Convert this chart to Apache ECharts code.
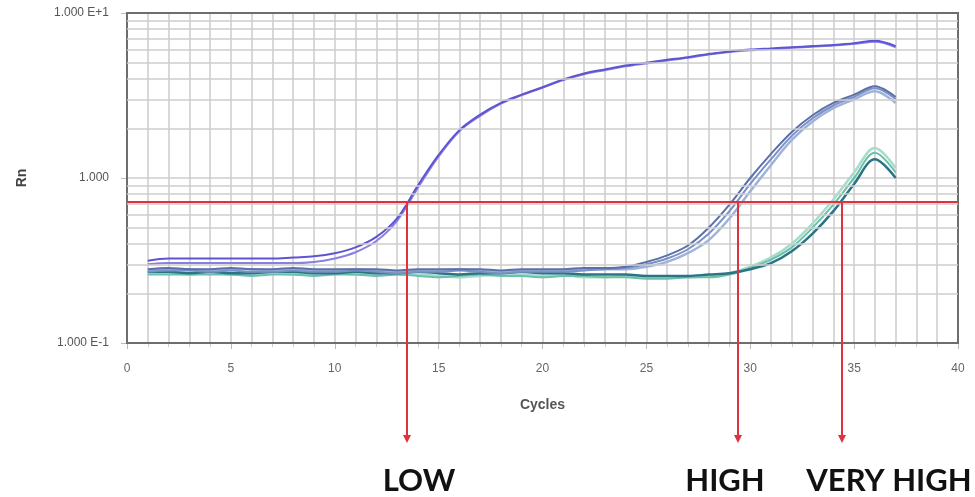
<!DOCTYPE html>
<html>
<head>
<meta charset="utf-8">
<script src="https://cdn.jsdelivr.net/npm/echarts@6/dist/echarts.min.js"></script>
<style>
  html, body { margin: 0; padding: 0; background: #fff; }
  #plot { width: 975px; height: 497px; }
</style>
</head>
<body>
<div id="plot"></div>
<script>
// cycles 1..37
const cycles = [1,2,3,4,5,6,7,8,9,10,11,12,13,14,15,16,17,18,19,20,21,22,23,24,25,26,27,28,29,30,31,32,33,34,35,36,37];

// LOW (two replicates, purple)
const lowA = [0.315,0.325,0.325,0.325,0.325,0.325,0.325,0.33,0.335,0.35,0.38,0.44,0.57,0.9,1.38,1.95,2.42,2.85,3.2,3.55,3.95,4.3,4.55,4.8,5.0,5.2,5.4,5.65,5.85,6.0,6.1,6.2,6.3,6.4,6.55,6.8,6.3];
const lowB = [0.3,0.305,0.305,0.305,0.305,0.305,0.305,0.305,0.31,0.325,0.355,0.415,0.55,0.87,1.35,1.92,2.38,2.82,3.18,3.52,3.92,4.25,4.5,4.75,4.95,5.15,5.35,5.6,5.8,5.95,6.05,6.15,6.25,6.35,6.5,6.7,6.2];

// HIGH (three replicates, steel blue)
const highA = [0.27,0.275,0.275,0.27,0.275,0.27,0.27,0.275,0.27,0.27,0.275,0.27,0.265,0.27,0.27,0.275,0.27,0.265,0.27,0.27,0.27,0.275,0.28,0.285,0.3,0.325,0.37,0.46,0.63,0.92,1.3,1.8,2.3,2.75,3.1,3.5,3.0];
const highB = [0.275,0.28,0.28,0.275,0.28,0.28,0.275,0.28,0.275,0.275,0.28,0.275,0.27,0.275,0.275,0.28,0.275,0.27,0.275,0.275,0.275,0.28,0.28,0.28,0.29,0.31,0.35,0.42,0.57,0.83,1.2,1.7,2.2,2.65,3.0,3.35,2.85];
const highC = [0.28,0.285,0.28,0.28,0.285,0.28,0.28,0.285,0.28,0.28,0.28,0.28,0.275,0.28,0.28,0.28,0.28,0.275,0.28,0.28,0.28,0.285,0.285,0.29,0.31,0.34,0.39,0.5,0.69,1.0,1.4,1.9,2.4,2.85,3.2,3.6,3.1];

// VERY HIGH (three replicates, green / teal)
const vhighA = [0.265,0.265,0.26,0.265,0.26,0.26,0.265,0.26,0.26,0.265,0.26,0.26,0.26,0.26,0.255,0.25,0.255,0.26,0.26,0.255,0.26,0.25,0.25,0.255,0.25,0.25,0.25,0.255,0.265,0.29,0.33,0.4,0.53,0.74,1.08,1.52,1.15];
const vhighB = [0.26,0.26,0.26,0.26,0.26,0.255,0.26,0.26,0.255,0.26,0.26,0.255,0.26,0.255,0.25,0.255,0.26,0.255,0.255,0.25,0.255,0.255,0.25,0.25,0.245,0.245,0.25,0.25,0.26,0.285,0.32,0.38,0.5,0.69,1.0,1.42,1.08];
const vhighC = [0.27,0.27,0.265,0.27,0.265,0.265,0.27,0.27,0.265,0.265,0.27,0.265,0.265,0.27,0.265,0.26,0.265,0.265,0.27,0.265,0.265,0.26,0.26,0.26,0.255,0.255,0.255,0.26,0.265,0.28,0.305,0.36,0.46,0.63,0.92,1.3,1.0];

// threshold and Ct values
const thresholdRn = 0.716;
const ctValues = [13.5, 29.4, 34.4];
const ctLabels = ["LOW", "HIGH", "VERY HIGH"];

// log grid minor lines
const minorRn = [0.2,0.3,0.4,0.5,0.6,0.7,0.8,0.9,2,3,4,5,6,7,8,9];
const yTickLabels = { "0.1": "1.000 E-1", "1": "1.000", "10": "1.000 E+1" };

const gridColor = "#cccccc";
const redColor = "#e0323c";

const toPairs = (vals) => cycles.map((c, i) => [c, vals[i]]);

const curve = (vals, color, width) => ({
    type: "line",
    data: toPairs(vals),
    showSymbol: false,
    smooth: 0.35,
    z: 3,
    lineStyle: { color: color, width: width }
});

let chart = echarts.init(document.getElementById("plot"), null, { renderer: "canvas" });
chart.setOption({
    animation: false,
    textStyle: { fontFamily: "Liberation Sans, Arial, sans-serif" },
    grid: {
        left: 127, right: 17, top: 13, bottom: 154,
        show: true, borderColor: "#6e6e6e", borderWidth: 2, z: 4
    },
    xAxis: {
        type: "value",
        min: 0, max: 40, interval: 5,
        name: "Cycles",
        nameLocation: "middle",
        nameGap: 55,
        nameTextStyle: { fontSize: 14, fontWeight: "bold", color: "#555" },
        axisLine: { lineStyle: { color: "#6e6e6e", width: 2 } },
        axisTick: { length: 6, lineStyle: { color: "#bbb" } },
        minorTick: { show: true, splitNumber: 5, length: 4, lineStyle: { color: "#ccc" } },
        splitLine: { show: true, lineStyle: { color: gridColor, width: 1.5 } },
        minorSplitLine: { show: true, lineStyle: { color: gridColor, width: 1.5 } },
        axisLabel: { fontSize: 12, color: "#666", margin: 20 }
    },
    yAxis: {
        type: "log",
        logBase: 10,
        min: 0.1, max: 10,
        name: "Rn",
        nameLocation: "middle",
        nameRotate: 90,
        nameGap: 98,
        nameTextStyle: { fontSize: 14, fontWeight: "bold", color: "#444" },
        axisLine: { show: true, lineStyle: { color: "#6e6e6e", width: 2 } },
        axisTick: { show: true, length: 6, lineStyle: { color: "#bbb" } },
        splitLine: { show: true, lineStyle: { color: gridColor, width: 1.5 } },
        axisLabel: {
            fontSize: 12, color: "#555", margin: 18,
            formatter: (v) => yTickLabels[String(+v.toPrecision(3))] || ""
        }
    },
    series: [
        {
            type: "line",
            data: [],
            z: 1,
            markLine: {
                silent: true,
                symbol: "none",
                label: { show: false },
                lineStyle: { color: gridColor, width: 1.5, type: "solid" },
                data: minorRn.map(v => ({ yAxis: v }))
            }
        },
        curve(vhighA, "#a6dccc", 2.5),
        curve(vhighB, "#6cbfa8", 2),
        curve(vhighC, "#2b7486", 2.5),
        curve(highB, "#9fb2da", 2.5),
        curve(highA, "#7a90c6", 2),
        curve(highC, "#5a70a9", 2),
        curve(lowB, "#8a80e0", 2),
        curve(lowA, "#5f54d2", 2),
        {
            type: "line",
            data: [],
            z: 5,
            markLine: {
                silent: true,
                symbol: "none",
                label: { show: false },
                lineStyle: { color: redColor, width: 2, type: "solid" },
                data: [{ yAxis: thresholdRn }]
            }
        }
    ]
});

// Ct arrows and labels, located through the axes
const labelOffsets = [12, -13, 47];
const arrowTipY = 443;
const graphics = [];
ctValues.forEach((ct, i) => {
    const p = chart.convertToPixel({ gridIndex: 0 }, [ct, thresholdRn]);
    const x = Math.round(p[0]);
    graphics.push({
        type: "line", z: 10,
        shape: { x1: x, y1: p[1], x2: x, y2: arrowTipY - 6 },
        style: { stroke: redColor, lineWidth: 2 }
    });
    graphics.push({
        type: "polygon", z: 10,
        shape: { points: [[x - 4, arrowTipY - 8], [x + 4, arrowTipY - 8], [x, arrowTipY]] },
        style: { fill: redColor }
    });
    graphics.push({
        type: "text", z: 10,
        x: x + labelOffsets[i], y: 481,
        style: {
            text: ctLabels[i],
            fontFamily: "Lato, Liberation Sans, sans-serif",
            fontWeight: "bold",
            fontSize: 31,
            fill: "#111",
            align: "center",
            verticalAlign: "middle"
        }
    });
});
chart.setOption({ graphic: graphics });
</script>
</body>
</html>
